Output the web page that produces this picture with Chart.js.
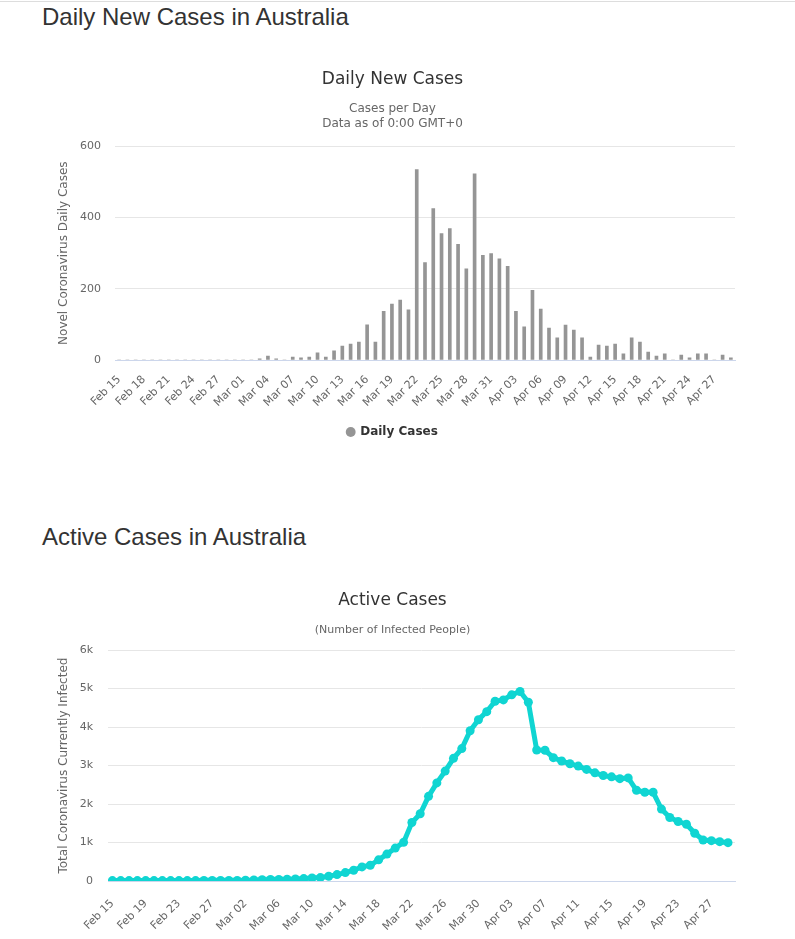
<!DOCTYPE html>
<html>
<head>
<meta charset="utf-8">
<title>Coronavirus Australia</title>
<script src="https://cdn.jsdelivr.net/npm/chart.js@4.4.0/dist/chart.umd.min.js"></script>
<style>
  body { margin: 0; background: #fff; }
  #page { position: relative; width: 795px; height: 939px; overflow: hidden; }
  #topline { position: absolute; left: 0; top: 1px; width: 795px; height: 1px; background: #dddddd; }
  h3 { position: absolute; left: 42px; margin: 0; font: 24px "Liberation Sans", Arial, sans-serif; color: #333; font-weight: normal; }
  canvas { position: absolute; left: 0; }
</style>
</head>
<body>
<div id="page">
  <div id="topline"></div>
  <h3 style="top:3px">Daily New Cases in Australia</h3>
  <canvas id="dailyChart" width="787" height="398" style="top:50px"></canvas>
  <h3 style="top:523px">Active Cases in Australia</h3>
  <canvas id="activeChart" width="787" height="369" style="top:570px"></canvas>
</div>
<script>
// Datumsachse (Feb 15 - Apr 29)
const days = [
  'Feb 15','Feb 16','Feb 17','Feb 18','Feb 19','Feb 20','Feb 21','Feb 22','Feb 23','Feb 24',
  'Feb 25','Feb 26','Feb 27','Feb 28','Feb 29','Mar 01','Mar 02','Mar 03','Mar 04','Mar 05',
  'Mar 06','Mar 07','Mar 08','Mar 09','Mar 10','Mar 11','Mar 12','Mar 13','Mar 14','Mar 15',
  'Mar 16','Mar 17','Mar 18','Mar 19','Mar 20','Mar 21','Mar 22','Mar 23','Mar 24','Mar 25',
  'Mar 26','Mar 27','Mar 28','Mar 29','Mar 30','Mar 31','Apr 01','Apr 02','Apr 03','Apr 04',
  'Apr 05','Apr 06','Apr 07','Apr 08','Apr 09','Apr 10','Apr 11','Apr 12','Apr 13','Apr 14',
  'Apr 15','Apr 16','Apr 17','Apr 18','Apr 19','Apr 20','Apr 21','Apr 22','Apr 23','Apr 24',
  'Apr 25','Apr 26','Apr 27','Apr 28','Apr 29'
];

// Neue Fälle pro Tag
const dailyCases = [
  0, 0, 0, 0, 0, 0, 0, 0, 0, 0,
  0, 0, 0, 0, 0, 0, 0, 3, 11, 3,
  0, 8, 6, 8, 20, 8, 26, 39, 45, 50,
  99, 50, 137, 157, 168, 141, 535, 274, 425, 355,
  369, 325, 256, 523, 294, 299, 284, 263, 137, 93,
  196, 143, 90, 62, 98, 84, 62, 8, 42, 39,
  45, 17, 62, 50, 22, 11, 17, 0, 14, 6,
  17, 17, 0, 14, 6
];

// Aktive Fälle
const activeCases = [
  10, 10, 10, 10, 10, 10, 11, 11, 11, 11,
  11, 12, 12, 12, 12, 15, 20, 25, 35, 38,
  40, 48, 55, 62, 80, 88, 122, 166, 218, 280,
  367, 410, 550, 699, 856, 1004, 1520, 1747, 2201, 2550,
  2856, 3188, 3441, 3904, 4192, 4402, 4672, 4707, 4838, 4926,
  4646, 3406, 3397, 3205, 3118, 3048, 2987, 2900, 2812, 2742,
  2707, 2660, 2680, 2358, 2306, 2306, 1869, 1651, 1546, 1476,
  1240, 1066, 1048, 1022, 996
];

const dailyTicks = [0, 200, 400, 600];
const activeTicks = [0, 1000, 2000, 3000, 4000, 5000, 6000];

const fontFamily = '"DejaVu Sans", "Lucida Grande", sans-serif';
const labelGrey = '#666666';
const cyan = '#10d5d2';

// Daily New Cases (Balken)
new Chart(document.getElementById('dailyChart'), {
  type: 'bar',
  data: {
    labels: days,
    datasets: [{
      label: 'Daily Cases',
      data: dailyCases,
      backgroundColor: '#959595',
      borderWidth: 0,
      barThickness: 3,
      pointStyle: 'circle'
    }]
  },
  options: {
    responsive: false,
    animation: false,
    layout: { padding: { left: 50, right: 52, top: 0, bottom: 0 } },
    scales: {
      x: {
        grid: { display: false },
        border: { color: '#ccd6eb' },
        ticks: {
          autoSkip: false,
          minRotation: 45,
          maxRotation: 45,
          padding: 5,
          color: labelGrey,
          font: { family: fontFamily, size: 11 },
          callback: function(value, index) {
            return index % 3 === 0 ? this.getLabelForValue(value) : null;
          }
        },
        afterFit: function(scale) { scale.height = 56; }
      },
      y: {
        min: 0,
        max: 600,
        afterBuildTicks: function(scale) { scale.ticks = dailyTicks.map(v => ({ value: v })); },
        grid: { color: '#e6e6e6', drawTicks: false },
        border: { display: false },
        ticks: { padding: 14, color: labelGrey, font: { family: fontFamily, size: 11 } },
        title: {
          display: true,
          text: 'Novel Coronavirus Daily Cases',
          color: labelGrey,
          font: { family: fontFamily, size: 12 },
          padding: { top: 7, bottom: 0 }
        },
        afterFit: function(scale) { scale.width = 65; }
      }
    },
    plugins: {
      title: {
        display: true,
        text: 'Daily New Cases',
        color: '#333333',
        font: { family: fontFamily, size: 17, weight: 'normal' },
        padding: { top: 19, bottom: 12 }
      },
      subtitle: {
        display: true,
        text: ['Cases per Day', 'Data as of 0:00 GMT+0'],
        color: labelGrey,
        font: { family: fontFamily, size: 12, lineHeight: 1.25 },
        padding: { top: 0, bottom: 15 }
      },
      legend: {
        position: 'bottom',
        labels: {
          usePointStyle: true,
          boxWidth: 7,
          boxHeight: 7,
          color: '#333333',
          font: { family: fontFamily, size: 12, weight: 'bold' }
        }
      },
      tooltip: { enabled: false }
    }
  }
});

// Active Cases (Linie)
const activeTickIdx = days.map((d, i) => i).filter(i => i % 4 === 0);

new Chart(document.getElementById('activeChart'), {
  type: 'line',
  data: {
    datasets: [{
      label: 'Currently Infected',
      data: activeCases.map((v, i) => ({ x: i, y: v })),
      borderColor: cyan,
      backgroundColor: cyan,
      borderWidth: 5,
      tension: 0,
      pointRadius: 4.5,
      pointBorderWidth: 0,
      pointBackgroundColor: cyan
    }]
  },
  options: {
    responsive: false,
    animation: false,
    layout: { padding: { left: 50, right: 52, top: 0, bottom: 0 } },
    scales: {
      x: {
        type: 'linear',
        min: -0.53,
        max: 74.84,
        afterBuildTicks: function(scale) { scale.ticks = activeTickIdx.map(v => ({ value: v })); },
        grid: { display: false },
        border: { color: '#ccd6eb' },
        ticks: {
          autoSkip: false,
          minRotation: 45,
          maxRotation: 45,
          padding: 8,
          color: labelGrey,
          font: { family: fontFamily, size: 11 },
          callback: function(value) { return days[value]; }
        },
        afterFit: function(scale) { scale.height = 58; }
      },
      y: {
        min: 0,
        max: 6000,
        afterBuildTicks: function(scale) { scale.ticks = activeTicks.map(v => ({ value: v })); },
        grid: { color: '#e6e6e6', drawTicks: false },
        border: { display: false },
        ticks: {
          padding: 15,
          color: labelGrey,
          font: { family: fontFamily, size: 11 },
          callback: function(value) { return value === 0 ? '0' : (value / 1000) + 'k'; }
        },
        title: {
          display: true,
          text: 'Total Coronavirus Currently Infected',
          color: labelGrey,
          font: { family: fontFamily, size: 12 },
          padding: { top: 7, bottom: 0 }
        },
        afterFit: function(scale) { scale.width = 58; }
      }
    },
    plugins: {
      title: {
        display: true,
        text: 'Active Cases',
        color: '#333333',
        font: { family: fontFamily, size: 17, weight: 'normal' },
        padding: { top: 20, bottom: 13 }
      },
      subtitle: {
        display: true,
        text: '(Number of Infected People)',
        color: labelGrey,
        font: { family: fontFamily, size: 11, lineHeight: 1.25 },
        padding: { top: 0, bottom: 13 }
      },
      legend: { display: false },
      tooltip: { enabled: false }
    }
  }
});
</script>
</body>
</html>
